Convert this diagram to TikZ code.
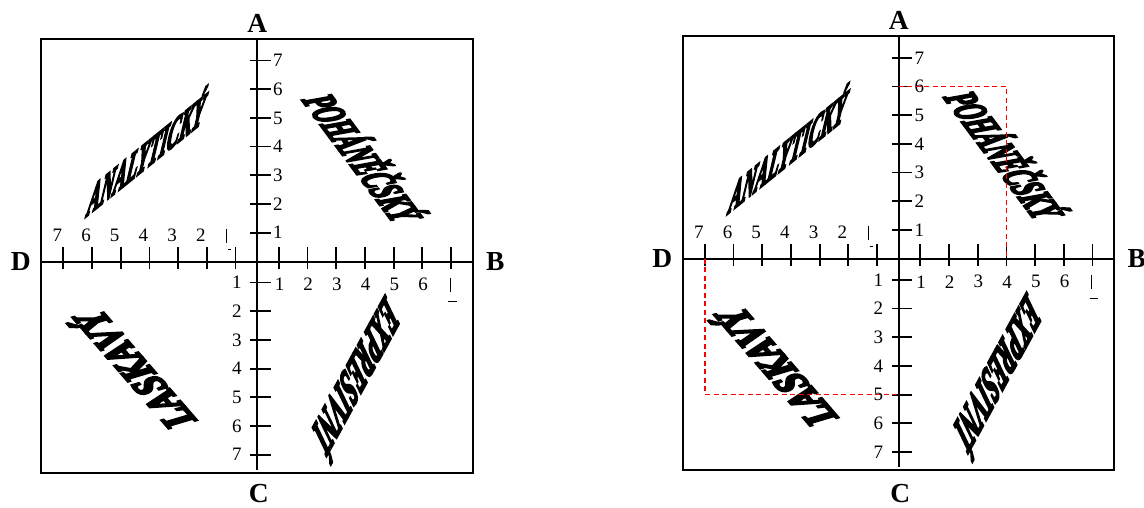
\documentclass[tikz,border=0pt]{standalone}
\usepackage{fontspec}
\setmainfont{Liberation Serif}
\newfontfamily\wordfam{Liberation Serif}[BoldItalicFeatures={FakeBold=7}]
\usepackage{graphicx}
\newcommand\wordfont{\wordfam\bfseries\itshape}
\tikzset{
 boxline/.style={line width=2pt},
 axisline/.style={line width=2pt},
 tickline/.style={line width=1.8pt},
 num/.style={inner sep=0pt, font=\fontsize{19}{19}\selectfont},
 big/.style={inner sep=0pt, font=\fontsize{27.5}{27.5}\selectfont\bfseries},
 wordnode/.style={inner sep=0pt, anchor=base west, transform shape},
 reddash/.style={draw=red, line width=1.6pt, dash pattern=on 5pt off 3.5pt},
 frag/.style={line width=0.8pt}
}
\newcommand\drawpanel[2]{%
  \draw[boxline] (-216,-222.5) rectangle (215.5,211.5);
  \draw[axisline] (-216,0) -- (215.5,0);
  \draw[axisline] (0,-222.5) -- (0,208);
  \foreach \k in {1,...,7} {
    \pgfmathsetmacro\xr{21.5+28.7*(\k-1)}
    \pgfmathsetmacro\xl{-21.8-28.7*(\k-1)}
    \pgfmathsetmacro\yu{-28.8-28.7*(\k-1)}
    \pgfmathsetmacro\yd{21+28.7*(\k-1)}
    \draw[tickline] (\xr,-14.5) -- (\xr,7);
    \draw[tickline] (\xl,-14.5) -- (\xl,7);
    \draw[tickline] (-7,\yu) -- (13.5,\yu);
    \draw[tickline] (-7,\yd) -- (13.5,\yd);
    \node[num,anchor=west] (#1u\k) at (15.5,\yu) {\k};
    \node[num,anchor=east] (#1d\k) at (-15.5,\yd) {\k};
  }
  \foreach \k in {2,...,7} {
    \pgfmathsetmacro\xl{-21.8-28.7*(\k-1)-6}
    \node[num] (#1l\k) at (\xl,-26.5) {\k};
  }
  \foreach \k in {1,...,6} {
    \pgfmathsetmacro\xr{21.5+28.7*(\k-1)+0.7}
    \node[num] (#1r\k) at (\xr,23) {\k};
  }
  \draw[frag] (-30.5,-33) -- (-30.5,-19);
  \draw[frag] (-29.3,-12) -- (-26,-12);
  \draw[frag] (192.8,16) -- (192.8,30);
  \draw[frag,line width=1.2pt] (191,40) -- (199.4,40);
  \node[big] (#1A) at (0,-238) {A};
  \node[big] (#1B) at (238,0) {B};
  \node[big] (#1C) at (1.5,#2) {C};
  \node[big] (#1D) at (-236.5,0) {D};
  \begin{scope}[cm={1.155,0.933,0.68,3.84,(-171.3,-44.8)}]
    \node[wordnode] (#1w1) at (0,0) {\resizebox{100pt}{10pt}{\wordfont ANALYTICKÝ}};
  \end{scope}
  \begin{scope}[cm={0.92,-1.236,3.63,0.97,(44.4,-161.8)}]
    \node[wordnode] (#1w2) at (0,0) {\resizebox{100pt}{10pt}{\wordfont POHÁNĚČSKÝ}};
  \end{scope}
  \begin{scope}[cm={-0.97,1.12,-3.3,-1.47,(-60.6,158.8)}]
    \node[wordnode] (#1w3) at (0,0) {\resizebox{100pt}{10pt}{\wordfont LASKAVÝ}};
  \end{scope}
  \begin{scope}[cm={-0.738,-1.349,1.95,-3.34,(128.2,33.5)}]
    \node[wordnode] (#1w4) at (0,0) {\resizebox{100pt}{10pt}{\wordfont EXPRESIVNÍ}};
  \end{scope}
}
\begin{document}
\begin{tikzpicture}[x=1pt,y=-1pt]
\useasboundingbox[fill=white] (0,0) rectangle (1144,508);
\begin{scope}[shift={(257.3,261.5)}]
  \drawpanel{L}{232}
\end{scope}
\begin{scope}[shift={(898.8,258.8)}]
  \drawpanel{R}{234.5}
  \draw[reddash] (0,-172.3) -- (107.6,-172.3) -- (107.6,0);
  \draw[reddash] (-194,0) -- (-194,135.8) -- (0,135.8);
\end{scope}
\end{tikzpicture}
\end{document}
